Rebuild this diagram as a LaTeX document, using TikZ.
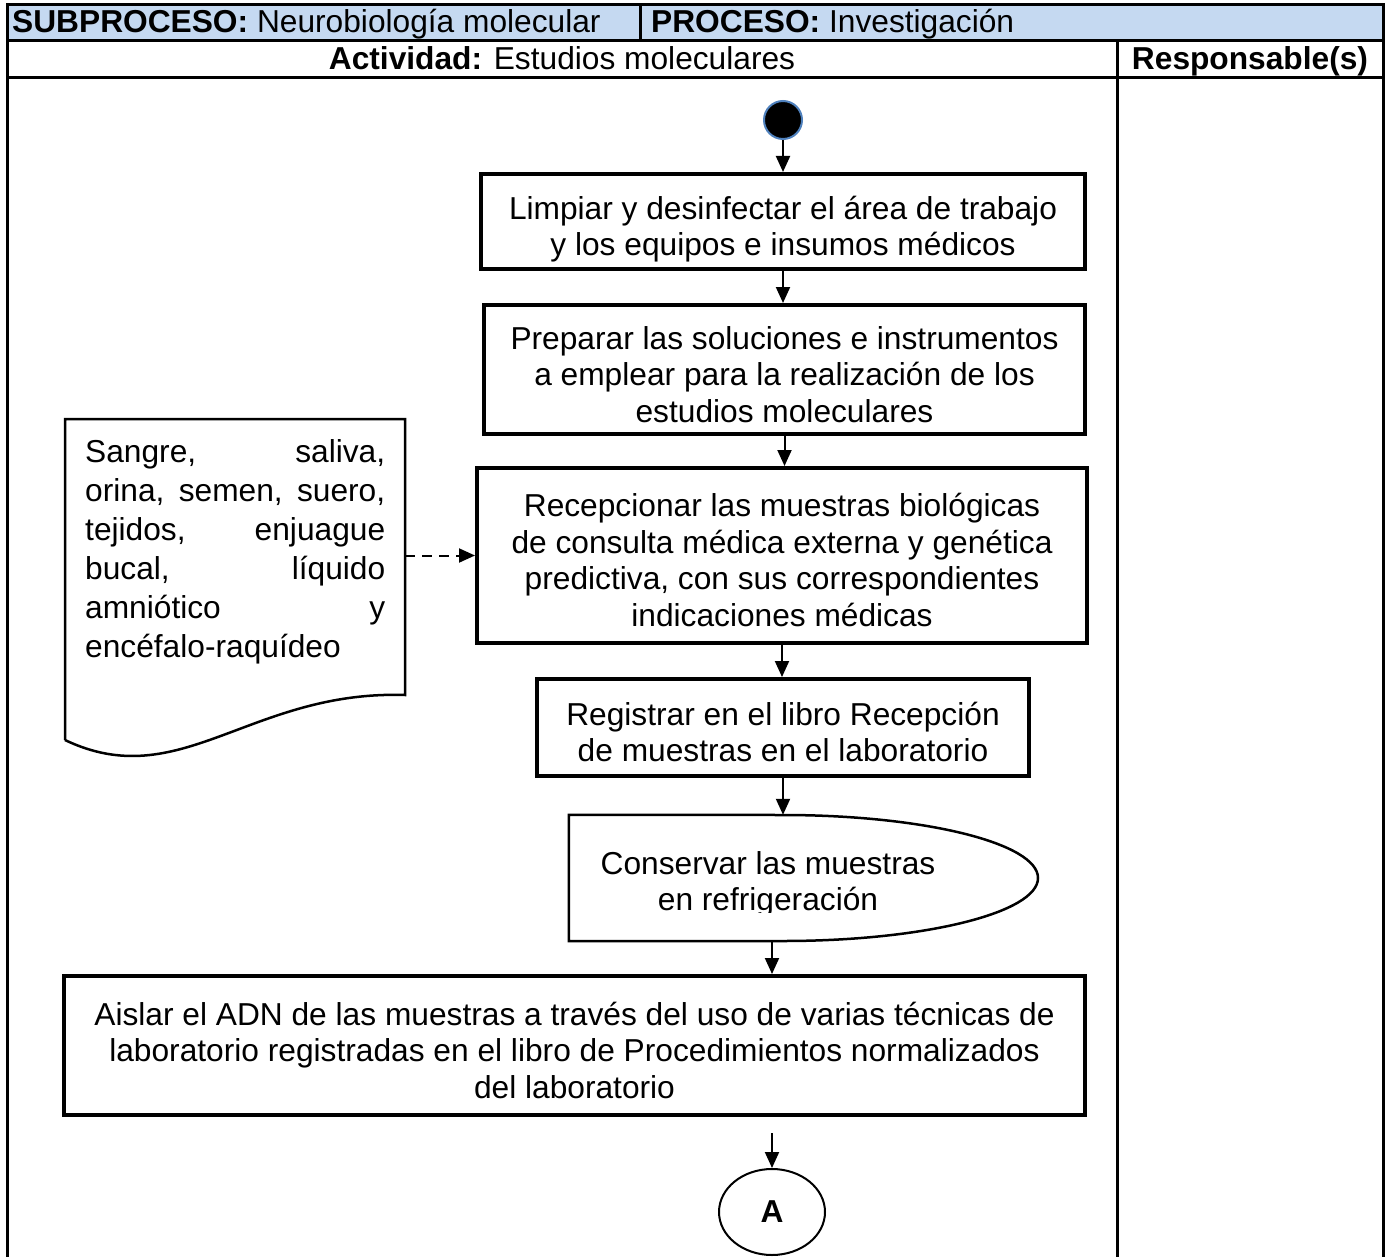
\documentclass[tikz,border=0pt]{standalone}
\usepackage{fontspec}
\setmainfont{Liberation Sans}
\usetikzlibrary{arrows.meta,shapes.geometric,calc}
\definecolor{hdrblue}{RGB}{197,217,241}
\definecolor{ringblue}{RGB}{79,129,189}
% struts that give every step box the same text block height
\newcommand{\topstrut}{\rule{0pt}{39pt}}
\newcommand{\botstrut}{\rule[-7pt]{0pt}{7pt}}

\begin{document}
\begin{tikzpicture}[x=1pt,y=-1pt,
  every node/.style={font=\fontsize{31.7}{36}\selectfont, inner sep=0pt},
  proc/.style={draw, line width=4pt, align=center,
    font=\fontsize{31.7}{36.5}\selectfont},
  arr/.style={line width=2pt, -{Triangle[length=16pt,width=14pt]}},
  grid/.style={line width=3pt}]

\useasboundingbox (0,0) rectangle (1386,1257);
\fill[white] (0,0) rectangle (1386,1257);

% header of the form
\fill[hdrblue] (7,5) rectangle (1383,41);
\draw[grid] (7,1257) -- (7,5) -- (1383,5) -- (1383,1257);
\draw[grid] (7,41) -- (1383,41);
\draw[grid] (7,78) -- (1383,78);
\draw[grid] (640,5) -- (640,41);
\draw[grid] (1117,41) -- (1117,1257);

\node[anchor=base west] (sub) at (12,33) {\textbf{SUBPROCESO:} Neurobiología molecular};
\node[anchor=base west] (pro) at (651,33) {\textbf{PROCESO:} Investigación};
\node[anchor=base] (act) at (562,70) {\textbf{Actividad:} Estudios moleculares};
\node[anchor=base] (resp) at (1250,70) {\textbf{Responsable(s)}};

% start point
\node[circle, fill=black, draw=ringblue, line width=2pt, minimum size=38pt] (start) at (783,120) {};

% process steps
\node[proc, minimum width=604pt, minimum height=95pt] (b1) at (783,221.5)
  {\topstrut Limpiar y desinfectar el área de trabajo\\y los equipos e insumos médicos\botstrut};
\node[proc, minimum width=601pt, minimum height=129pt] (b2) at (784.5,369.5)
  {\topstrut Preparar las soluciones e instrumentos\\a emplear para la realización de los\\estudios moleculares\botstrut};
\node[proc, minimum width=610pt, minimum height=175pt] (b3) at (782,555.5)
  {\topstrut Recepcionar las muestras biológicas\\de consulta médica externa y genética\\predictiva, con sus correspondientes\\indicaciones médicas\botstrut};
\node[proc, minimum width=492pt, minimum height=97pt] (b4) at (783,727.5)
  {\topstrut Registrar en el libro Recepción\\de muestras en el laboratorio\botstrut};
\node[proc, minimum width=1021pt, minimum height=139pt] (b6) at (574.5,1045.5)
  {\topstrut Aislar el ADN de las muestras a través del uso de varias técnicas de\\laboratorio registradas en el libro de Procedimientos normalizados\\del laboratorio\botstrut};

% storage step
\node[minimum width=469pt, minimum height=126pt] (st) at (803.5,878) {};
\draw[line width=2.5pt] (st.north west) -- (783,815)
  .. controls (923.8,815) and (1038,843.2) .. (1038,878)
  .. controls (1038,912.8) and (923.8,941) .. (783,941)
  -- (st.south west) -- cycle;
\begin{scope}
  \clip (569,815) rectangle (1040,912);
  \node[align=center] (sttxt) at (768,884) {Conservar las muestras\\en refrigeración};
\end{scope}

% input document
\node[minimum width=340pt, minimum height=321pt] (doc) at (235,579.5) {};
\draw[line width=2.5pt] (65,740) -- (65,419) -- (405,419) -- (405,695)
  .. controls (250,690) and (180,795) .. (65,740);
\node[anchor=north west, text width=300pt, align=left,
      font=\fontsize{31.7}{39}\selectfont] (doctxt) at (85,439)
  {\makebox[300pt][s]{Sangre,\hfill saliva,}\\
   \makebox[300pt][s]{orina,\hfill semen,\hfill suero,}\\
   \makebox[300pt][s]{tejidos,\hfill enjuague}\\
   \makebox[300pt][s]{bucal,\hfill líquido}\\
   \makebox[300pt][s]{amniótico\hfill y}\\
   encéfalo-raquídeo};

% off-page connector
\node[ellipse, draw, line width=2pt, minimum width=106pt, minimum height=86pt,
      font=\fontsize{31.7}{36}\selectfont\bfseries] (A) at (772,1212) {A};
\coordinate (a0) at (772,1133);

% connectors
\draw[arr] (start.south) -- (start.south |- b1.north);
\draw[arr] (b1.south) -- (b1.south |- b2.north);
\draw[arr] (b2.south) -- (b2.south |- b3.north);
\draw[arr] (b3.south) -- (b3.south |- b4.north);
\draw[arr] (b4.south) -- (b4.south |- st.north);
\draw[arr] (st.south -| A.center) -- (b6.north -| A.center);
\draw[arr] (a0) -- (A.north);
\draw[arr, dash pattern=on 10pt off 7pt] (doc.east |- b3.west) -- (b3.west);

\end{tikzpicture}
\end{document}
